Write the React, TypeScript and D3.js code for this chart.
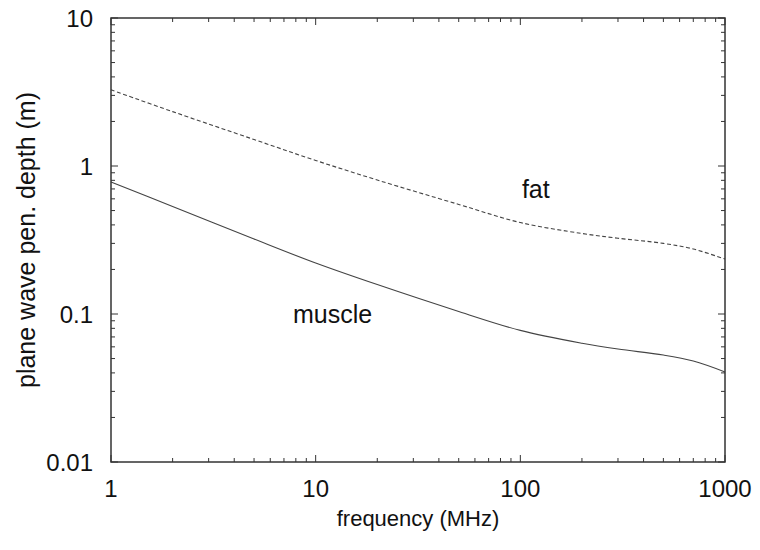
import React from "react";
import * as d3 from "d3";

// frequency in MHz
const freqs = [1, 2, 5, 10, 20, 50, 100, 200, 300, 500, 700, 1000];
// plane wave penetration depth (m)
const fatDepth = [3.27, 2.33, 1.51, 1.09, 0.804, 0.55, 0.415, 0.35, 0.325, 0.30, 0.275, 0.235];
const muscleDepth = [0.78, 0.533, 0.321, 0.221, 0.158, 0.104, 0.0775, 0.0635, 0.058, 0.0528, 0.0481, 0.0406];

const xTicks = [1, 10, 100, 1000];
const yTicks = [0.01, 0.1, 1, 10];

const W = 760, H = 550;
const margin = { top: 18, right: 35, bottom: 88, left: 111 };

const App = () => {
    const width = W - margin.left - margin.right;
    const height = H - margin.top - margin.bottom;

    const x = d3.scaleLog().domain([1, 1000]).range([0, width]);
    const y = d3.scaleLog().domain([0.01, 10]).range([height, 0]);

    const line = d3.line<[number, number]>()
        .x(d => x(d[0]))
        .y(d => y(d[1]))
        .curve(d3.curveCatmullRom.alpha(0.5));

    const fatPts = freqs.map((f, i) => [f, fatDepth[i]] as [number, number]);
    const musclePts = freqs.map((f, i) => [f, muscleDepth[i]] as [number, number]);

    // minor ticks for each decade
    const xMinor: number[] = [];
    for (let d = 1; d < 1000; d *= 10) for (let k = 2; k <= 9; k++) xMinor.push(d * k);
    const yMinor: number[] = [];
    for (let d = 0.01; d < 9; d *= 10) for (let k = 2; k <= 9; k++) yMinor.push(d * k);

    const major = 7, minor = 4;
    const axisColor = "#333";
    const font = "'Liberation Sans', Arial, Helvetica, sans-serif";

    return (
        <svg width={W} height={H} style={{ position: "absolute", left: 0, top: 0, background: "#fff" }}
             fontFamily={font}>
            <g transform={`translate(${margin.left},${margin.top})`}>
                {/* ticks on all four sides, pointing inward */}
                <g stroke={axisColor} strokeWidth={1}>
                    {xTicks.map(t => (
                        <g key={"xt" + t}>
                            <line x1={x(t)} x2={x(t)} y1={height} y2={height - major} />
                            <line x1={x(t)} x2={x(t)} y1={0} y2={major} />
                        </g>
                    ))}
                    {xMinor.map(t => (
                        <g key={"xm" + t}>
                            <line x1={x(t)} x2={x(t)} y1={height} y2={height - minor} />
                            <line x1={x(t)} x2={x(t)} y1={0} y2={minor} />
                        </g>
                    ))}
                    {yTicks.map(t => (
                        <g key={"yt" + t}>
                            <line x1={0} x2={major} y1={y(t)} y2={y(t)} />
                            <line x1={width} x2={width - major} y1={y(t)} y2={y(t)} />
                        </g>
                    ))}
                    {yMinor.map(t => (
                        <g key={"ym" + t}>
                            <line x1={0} x2={minor} y1={y(t)} y2={y(t)} />
                            <line x1={width} x2={width - minor} y1={y(t)} y2={y(t)} />
                        </g>
                    ))}
                </g>

                <path d={line(fatPts) || ""} fill="none" stroke="#444" strokeWidth={1.1} strokeDasharray="4,2.5" />
                <path d={line(musclePts) || ""} fill="none" stroke="#444" strokeWidth={1.1} />

                <rect x={0} y={0} width={width} height={height} fill="none" stroke={axisColor} strokeWidth={1.5} />

                {xTicks.map(t => (
                    <text key={"xl" + t} x={x(t)} y={height + 35} textAnchor="middle" fontSize={24} fill="#111">
                        {String(t)}
                    </text>
                ))}
                {yTicks.map(t => (
                    <text key={"yl" + t} x={-18} y={y(t)} dy="0.36em" textAnchor="end" fontSize={24} fill="#111">
                        {String(t)}
                    </text>
                ))}

                <text x={x(119)} y={y(0.61)} textAnchor="middle" fontSize={25} fill="#111">fat</text>
                <text x={x(7.75)} y={y(0.087)} textAnchor="start" fontSize={25} fill="#111">muscle</text>

                <text x={width / 2} y={height + 64} textAnchor="middle" fontSize={22} fill="#111">frequency (MHz)</text>
                <text transform={`translate(${-76},${height / 2}) rotate(-90)`} textAnchor="middle" fontSize={25} fill="#111">
                    plane wave pen. depth (m)
                </text>
            </g>
        </svg>
    );
};

export default App;
